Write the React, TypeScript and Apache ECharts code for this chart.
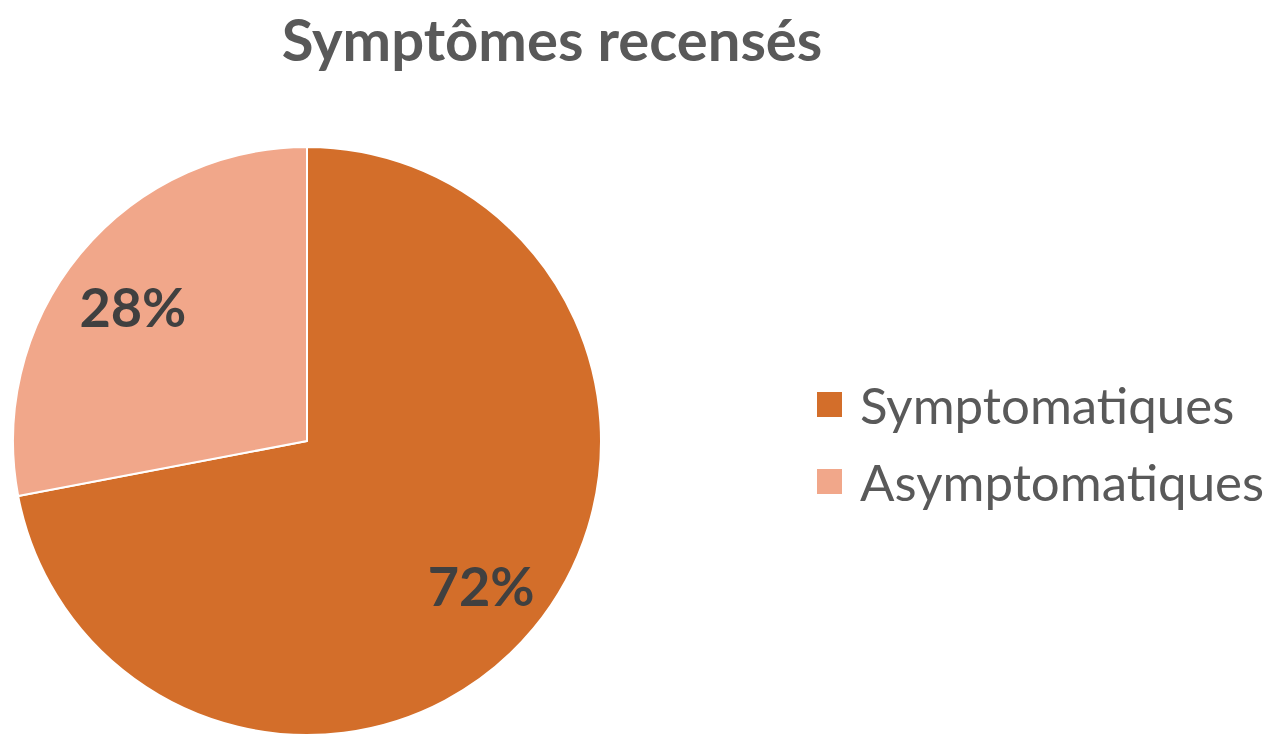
import React, { useEffect, useRef } from "react";
import * as echarts from "echarts";

const titleText = "Symptômes recensés";
const categories = ["Symptomatiques", "Asymptomatiques"];
const values = [72, 28];
const colors = ["#D36E2A", "#F1A78A"];

export default function App() {
  const ref = useRef<HTMLDivElement>(null);
  useEffect(() => {
    if (!ref.current) return;
    const chart = echarts.init(ref.current, undefined, { renderer: "svg" });
    const data = categories.map((name, i) => ({
      name,
      value: values[i],
      itemStyle: { color: colors[i] },
    }));
    const legendText = {
      fontFamily: "Lato",
      fontSize: 51,
      color: "#595959",
      lineHeight: 27,
      padding: [0, 0, 0, 12],
    };
    const valueStyle = {
      fontFamily: "Lato",
      fontWeight: "bold",
      fontSize: 54,
      color: "#404040",
      lineHeight: 60,
    };
    chart.setOption({
      animation: false,
      backgroundColor: "#ffffff",
      title: {
        text: titleText,
        left: 552,
        top: 9,
        padding: 0,
        textAlign: "center",
        textStyle: {
          fontFamily: "Lato",
          fontWeight: "bold",
          fontSize: 58,
          color: "#595959",
        },
      },
      legend: [
        {
          orient: "vertical",
          left: 815,
          top: 379,
          padding: 0,
          itemWidth: 27,
          itemHeight: 27,
          icon: "rect",
          data: [categories[0]],
          textStyle: legendText,
        },
        {
          orient: "vertical",
          left: 815,
          top: 456,
          padding: 0,
          itemWidth: 27,
          itemHeight: 27,
          icon: "rect",
          data: [categories[1]],
          textStyle: legendText,
        },
      ],
      series: [
        {
          type: "pie",
          center: [307, 441],
          radius: [0, 294],
          startAngle: 90,
          clockwise: true,
          label: { show: false },
          labelLine: { show: false },
          itemStyle: { borderColor: "#ffffff", borderWidth: 2 },
          emphasis: { disabled: true },
          data,
        },
        {
          type: "pie",
          center: [307, 441],
          radius: [152, 294],
          startAngle: 90,
          clockwise: true,
          silent: true,
          itemStyle: { color: "rgba(0,0,0,0)" },
          label: {
            show: true,
            position: "inside",
            formatter: "{v|{c}%}",
            rich: { v: valueStyle },
          },
          labelLine: { show: false },
          emphasis: { disabled: true },
          data: categories.map((name, i) => ({
            name,
            value: values[i],
            itemStyle: { color: "rgba(0,0,0,0)" },
            label:
              i === 1
                ? {
                    formatter: "{g|}\n{v|{c}%}",
                    rich: { g: { height: 20, lineHeight: 20 }, v: valueStyle },
                  }
                : {},
          })),
        },
      ],
    });
    return () => chart.dispose();
  }, []);
  return (
    <div
      ref={ref}
      style={{ position: "absolute", left: 0, top: 0, width: 1285, height: 735 }}
    />
  );
}
